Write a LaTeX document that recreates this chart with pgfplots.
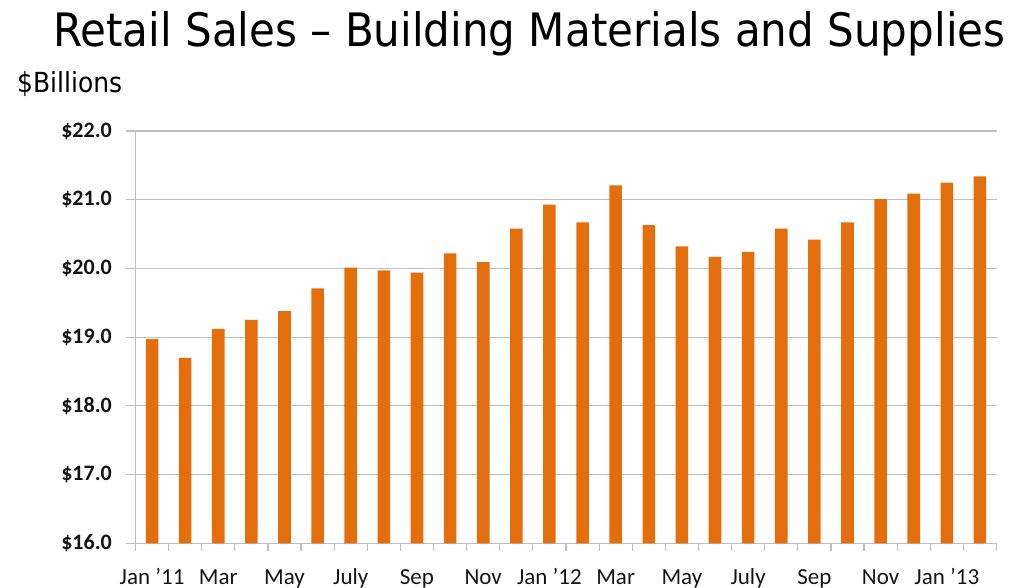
\documentclass[border=0pt]{standalone}
\usepackage{fontspec}
\setmainfont{Carlito}
\newfontfamily\titlefont{DejaVu Sans}
\usepackage{graphicx}
\usepackage{pgfplots}
\pgfplotsset{compat=1.18}
\definecolor{barorange}{RGB}{228,109,12}
\definecolor{gridgray}{RGB}{190,190,190}
\definecolor{labelgray}{RGB}{20,20,20}
\begin{document}
\begin{tikzpicture}
\useasboundingbox (0,0) rectangle (1029pt,587pt);
\node[anchor=base west, inner sep=0pt] at (53pt,540pt) {\resizebox{952pt}{35pt}{\titlefont Retail Sales – Building Materials and Supplies}};
\node[anchor=base west, inner sep=0pt] at (17pt,494pt) {\resizebox{105pt}{21pt}{\titlefont \$Billions}};
\begin{axis}[
  at={(135.5pt,43.7pt)}, anchor=south west,
  scale only axis, width=861pt, height=412.3pt,
  ybar, bar width=0.38, bar shift=0pt,
  xmin=-0.5, xmax=25.5, ymin=16, ymax=22,
  axis x line*=bottom, axis y line*=left,
  axis line style={draw=gridgray, line width=1.2pt},
  ymajorgrids, grid style={draw=gridgray, line width=1.2pt},
  xtick={0,2,...,24},
  xticklabels={{Jan \char39 11}, Mar, May, July, Sep, Nov, {Jan \char39 12}, Mar, May, July, Sep, Nov, {Jan \char39 13}},
  minor xtick={-0.5,0.5,...,25.5},
  major x tick style={draw=none},
  minor x tick style={draw=gridgray, line width=1.2pt},
  minor tick length=8pt,
  ytick={16,17,...,22},
  yticklabels={\$16.0,\$17.0,\$18.0,\$19.0,\$20.0,\$21.0,\$22.0},
  y tick style={draw=gridgray, line width=1.2pt},
  major tick length=9pt,
  tick align=outside,
  xticklabel style={font=\fontsize{23}{25}\selectfont, text=labelgray, inner sep=0pt, text height=15pt, text depth=5pt},
  xticklabel shift=16.5pt,
  yticklabel style={font=\fontsize{22}{24}\selectfont\bfseries, text=labelgray, inner sep=0pt},
  yticklabel shift=14.5pt,
]
\addplot[fill=barorange, draw=none] coordinates {
(0,18.97) (1,18.70) (2,19.12) (3,19.25) (4,19.38) (5,19.71) (6,20.01) (7,19.97) (8,19.94) (9,20.22) (10,20.09) (11,20.58) (12,20.93) (13,20.67) (14,21.21) (15,20.63) (16,20.32) (17,20.17) (18,20.24) (19,20.58) (20,20.42) (21,20.67) (22,21.01) (23,21.09) (24,21.25) (25,21.34)
};
\end{axis}
\end{tikzpicture}
\end{document}
